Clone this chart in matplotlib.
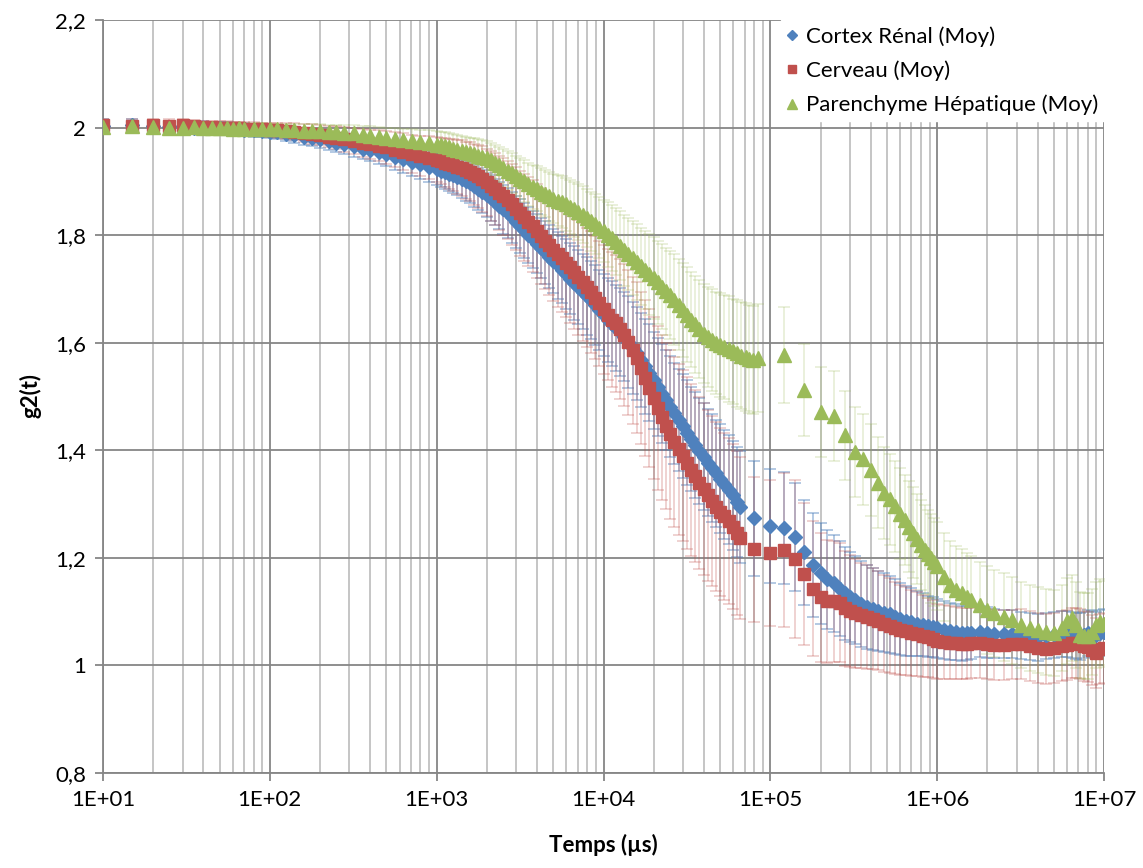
import numpy as np
import matplotlib
matplotlib.use('Agg')
import matplotlib.pyplot as plt
from matplotlib.ticker import FixedLocator, FuncFormatter, LogLocator, NullFormatter

# time axis (µs), cortex renal and cerveau
t_early = [10, 15, 20, 25, 30, 35, 40, 45, 50, 55, 60, 65, 70, 80, 90,
           100, 110, 125, 140, 160, 180, 200, 225, 250, 280, 320, 360, 400, 450, 500, 560, 630, 710, 800, 900]
t_mid = [1000, 1060, 1120, 1190, 1260, 1330, 1410, 1500, 1580, 1680, 1780, 1880, 2000, 2110, 2240, 2370,
         2510, 2660, 2820, 2990, 3160, 3350, 3550, 3760, 3980, 4220, 4470, 4730, 5010, 5310, 5620, 5960,
         6310, 6680, 7080, 7500, 7940, 8410, 8910, 9440,
         10000, 10600, 11200, 11900, 12600, 13300, 14100, 15000, 15800, 16800, 17800, 18800, 20000, 21100,
         22400, 23700, 25100, 26600, 28200, 29900, 31600, 33500, 35500, 37600, 39800, 42200, 44700, 47300,
         50100, 53100, 56200, 59600, 63100]
t_late = [1000000, 1100000, 1200000, 1300000, 1400000, 1500000, 1600000, 1800000, 2000000, 2200000, 2500000,
          2800000, 3200000, 3600000, 4000000, 4500000, 5000000, 5600000, 6000000, 6400000, 6800000, 7200000,
          7600000, 8000000, 8500000, 9000000, 9500000, 10000000]
t_rc_tail = [65500, 80000, 100000, 120000, 140000, 160000, 180000, 200000, 220000, 240000, 260000, 280000,
             300000, 320000, 350000, 380000, 410000, 440000, 480000, 520000, 560000, 600000, 650000, 700000,
             760000, 820000, 880000, 940000]
t_foie_tail = [67000, 71000, 75000, 79000, 84000,
               120000, 160000, 200000, 240000, 280000, 320000, 360000, 400000, 440000, 480000, 520000, 560000,
               600000, 640000, 680000, 720000, 760000, 800000, 840000, 880000, 920000, 960000]

t_rc = t_early + t_mid + t_rc_tail + t_late
t_foie = t_early + t_mid + t_foie_tail + t_late

cortex = [2.003, 2.004, 2.002, 2.001, 2.002, 2.000, 2.000, 1.999, 1.999, 1.998, 1.997, 1.997, 1.996, 1.995, 1.994,
          1.992, 1.991, 1.988, 1.986, 1.983, 1.981, 1.978, 1.975, 1.972, 1.969, 1.965, 1.961, 1.958, 1.955, 1.951,
          1.946, 1.941, 1.936, 1.932, 1.927,
          1.923, 1.920, 1.917, 1.914, 1.911, 1.908, 1.904, 1.900, 1.896, 1.891, 1.886, 1.881, 1.875, 1.869, 1.862,
          1.855, 1.848, 1.841, 1.833, 1.825, 1.817, 1.809, 1.800, 1.792, 1.784, 1.776, 1.768, 1.760, 1.752, 1.744,
          1.736, 1.727, 1.719, 1.711, 1.703, 1.695, 1.687, 1.679, 1.670, 1.661,
          1.652, 1.643, 1.635, 1.628, 1.620, 1.611, 1.601, 1.590, 1.580, 1.568, 1.556, 1.544, 1.530, 1.518,
          1.505, 1.493, 1.481, 1.469, 1.457, 1.445, 1.433, 1.421, 1.410, 1.399, 1.388, 1.377, 1.367, 1.357,
          1.347, 1.337, 1.327, 1.316, 1.304,
          1.295, 1.274, 1.259, 1.255, 1.239, 1.210, 1.187, 1.171, 1.160, 1.153, 1.143, 1.134,
          1.127, 1.122, 1.115, 1.109, 1.105, 1.101, 1.098, 1.095, 1.091, 1.086, 1.083, 1.081,
          1.078, 1.076, 1.073, 1.071,
          1.069, 1.066, 1.064, 1.062, 1.060, 1.061, 1.061, 1.063, 1.061, 1.059, 1.059,
          1.058, 1.056, 1.054, 1.052, 1.055, 1.057, 1.058, 1.059, 1.057, 1.055, 1.054,
          1.056, 1.060, 1.058, 1.057, 1.060, 1.062]
cortex_err = [0.012] * 15 + \
    [0.012, 0.013, 0.013, 0.014, 0.015, 0.015, 0.016, 0.017, 0.017, 0.018, 0.019, 0.020, 0.021, 0.022, 0.023,
     0.024, 0.025, 0.026, 0.027, 0.028,
     0.029, 0.030, 0.031, 0.032, 0.033, 0.034, 0.035, 0.036, 0.037, 0.038, 0.039, 0.040, 0.041, 0.042, 0.043,
     0.044, 0.045, 0.046, 0.047, 0.048, 0.050, 0.051, 0.052, 0.053, 0.055, 0.056, 0.058, 0.059, 0.060, 0.062,
     0.063, 0.065, 0.066, 0.068, 0.069, 0.070, 0.072, 0.073, 0.074, 0.075,
     0.076, 0.078, 0.079, 0.080, 0.082, 0.083, 0.085, 0.086, 0.087, 0.088, 0.089, 0.090, 0.090, 0.091,
     0.092, 0.093, 0.094, 0.094, 0.095, 0.096, 0.097, 0.097, 0.098, 0.098, 0.099, 0.099, 0.100, 0.100,
     0.101, 0.101, 0.102, 0.102, 0.103,
     0.104, 0.107, 0.106, 0.104, 0.100, 0.098, 0.096, 0.094, 0.092, 0.090, 0.088, 0.086,
     0.084, 0.082, 0.080, 0.078, 0.077, 0.075, 0.073, 0.071, 0.069, 0.067, 0.065, 0.063,
     0.061, 0.059, 0.057, 0.056,
     0.055, 0.054, 0.053, 0.052, 0.051, 0.050, 0.049, 0.048, 0.047, 0.046, 0.045,
     0.045, 0.044, 0.044, 0.044, 0.043, 0.043, 0.043, 0.043, 0.043, 0.043, 0.043,
     0.043, 0.043, 0.043, 0.043, 0.043, 0.043]

cerveau = [2.004, 2.003, 2.004, 2.003, 2.004, 2.002, 2.001, 2.001, 2.000, 2.000, 1.999, 1.999, 1.998, 1.998, 1.997,
           1.996, 1.995, 1.993, 1.992, 1.990, 1.988, 1.986, 1.983, 1.981, 1.978, 1.975, 1.972, 1.969, 1.966, 1.963,
           1.959, 1.955, 1.951, 1.947, 1.944,
           1.940, 1.938, 1.935, 1.932, 1.930, 1.927, 1.925, 1.921, 1.918, 1.913, 1.909, 1.904, 1.898, 1.892, 1.885,
           1.879, 1.872, 1.865, 1.857, 1.849, 1.841, 1.833, 1.825, 1.817, 1.808, 1.799, 1.790, 1.781, 1.772, 1.764,
           1.757, 1.748, 1.740, 1.731, 1.722, 1.713, 1.703, 1.694, 1.684, 1.673,
           1.662, 1.652, 1.643, 1.636, 1.626, 1.614, 1.601, 1.586, 1.572, 1.553, 1.535, 1.516, 1.497, 1.479,
           1.461, 1.445, 1.430, 1.416, 1.402, 1.390, 1.376, 1.364, 1.352, 1.339, 1.328, 1.316, 1.305, 1.295,
           1.286, 1.277, 1.268, 1.258, 1.246,
           1.237, 1.216, 1.209, 1.215, 1.198, 1.170, 1.143, 1.127, 1.119, 1.119, 1.117, 1.106,
           1.101, 1.097, 1.093, 1.090, 1.087, 1.083, 1.078, 1.074, 1.070, 1.066, 1.064, 1.061,
           1.058, 1.055, 1.052, 1.049,
           1.045, 1.043, 1.042, 1.041, 1.040, 1.040, 1.041, 1.042, 1.040, 1.038, 1.038,
           1.039, 1.040, 1.036, 1.032, 1.031, 1.033, 1.036, 1.038, 1.041, 1.042, 1.040,
           1.036, 1.034, 1.028, 1.024, 1.030, 1.033]
cerveau_err = [0.012] * 15 + \
    [0.013, 0.014, 0.015, 0.016, 0.017, 0.018, 0.019, 0.020, 0.021, 0.023, 0.024, 0.026, 0.027, 0.029, 0.030,
     0.032, 0.034, 0.036, 0.038, 0.040,
     0.042, 0.043, 0.045, 0.046, 0.048, 0.050, 0.052, 0.053, 0.055, 0.057, 0.059, 0.061, 0.063, 0.065, 0.067,
     0.069, 0.071, 0.073, 0.075, 0.077, 0.079, 0.081, 0.083, 0.085, 0.087, 0.089, 0.091, 0.093, 0.095, 0.097,
     0.099, 0.101, 0.103, 0.105, 0.107, 0.109, 0.111, 0.113, 0.115, 0.117,
     0.120, 0.122, 0.125, 0.127, 0.130, 0.132, 0.135, 0.137, 0.140, 0.142, 0.145, 0.147, 0.150, 0.152,
     0.154, 0.155, 0.157, 0.158, 0.159, 0.159, 0.160, 0.160, 0.160, 0.160, 0.159, 0.159, 0.158, 0.157,
     0.156, 0.155, 0.154, 0.153, 0.152,
     0.150, 0.135, 0.135, 0.143, 0.147, 0.132, 0.125, 0.120, 0.115, 0.112, 0.110, 0.107,
     0.104, 0.101, 0.098, 0.096, 0.094, 0.092, 0.090, 0.088, 0.086, 0.084, 0.082, 0.080,
     0.078, 0.076, 0.074, 0.072,
     0.070, 0.069, 0.068, 0.067, 0.066, 0.066, 0.065, 0.065, 0.065, 0.065, 0.065,
     0.065, 0.065, 0.065, 0.065, 0.065, 0.065, 0.065, 0.065, 0.065, 0.065, 0.065,
     0.065, 0.065, 0.065, 0.065, 0.065, 0.065]

foie = [2.001, 2.002, 2.001, 2.000, 2.000, 2.001, 2.000, 1.999, 1.999, 1.999, 1.998, 1.999, 1.998, 1.998, 1.998,
        1.997, 1.997, 1.996, 1.995, 1.994, 1.994, 1.993, 1.992, 1.991, 1.990, 1.989, 1.987, 1.985, 1.983, 1.981,
        1.979, 1.977, 1.975, 1.973, 1.971,
        1.968, 1.967, 1.965, 1.963, 1.961, 1.959, 1.956, 1.954, 1.952, 1.950, 1.948, 1.946, 1.943, 1.939, 1.934,
        1.930, 1.925, 1.920, 1.915, 1.910, 1.905, 1.900, 1.895, 1.890, 1.886, 1.881, 1.877, 1.872, 1.868, 1.864,
        1.861, 1.857, 1.853, 1.848, 1.843, 1.838, 1.832, 1.826, 1.820, 1.814,
        1.808, 1.801, 1.795, 1.788, 1.780, 1.772, 1.765, 1.757, 1.750, 1.742, 1.735, 1.727, 1.720, 1.712,
        1.704, 1.696, 1.688, 1.680, 1.671, 1.661, 1.652, 1.643, 1.634, 1.625, 1.617, 1.610, 1.605, 1.600,
        1.596, 1.592, 1.588, 1.584, 1.580,
        1.576, 1.573, 1.570, 1.568, 1.572,
        1.577, 1.512, 1.471, 1.464, 1.428, 1.397, 1.383, 1.363, 1.340, 1.321, 1.309, 1.296,
        1.282, 1.270, 1.258, 1.247, 1.235, 1.224, 1.215, 1.207, 1.199, 1.192,
        1.185, 1.165, 1.150, 1.141, 1.134, 1.128, 1.122, 1.112, 1.103, 1.097, 1.090,
        1.084, 1.076, 1.070, 1.066, 1.062, 1.060, 1.070, 1.082, 1.089, 1.075, 1.057,
        1.055, 1.054, 1.062, 1.075, 1.080, 1.077]
foie_err = [0.010] * 15 + \
    [0.010, 0.010, 0.011, 0.011, 0.012, 0.012, 0.013, 0.013, 0.014, 0.014, 0.015, 0.016, 0.017, 0.018, 0.019,
     0.020, 0.021, 0.022, 0.023, 0.024,
     0.025, 0.025, 0.026, 0.026, 0.027, 0.027, 0.028, 0.028, 0.029, 0.030, 0.031, 0.031, 0.032, 0.033, 0.034,
     0.034, 0.035, 0.036, 0.037, 0.037, 0.038, 0.039, 0.040, 0.041, 0.042, 0.043, 0.044, 0.045, 0.046, 0.047,
     0.048, 0.049, 0.050, 0.051, 0.052, 0.053, 0.054, 0.055, 0.056, 0.057,
     0.058, 0.060, 0.061, 0.063, 0.064, 0.066, 0.067, 0.069, 0.070, 0.072, 0.073, 0.075, 0.076, 0.078,
     0.079, 0.081, 0.082, 0.084, 0.085, 0.087, 0.088, 0.089, 0.090, 0.091, 0.092, 0.093, 0.094, 0.095,
     0.096, 0.097, 0.098, 0.098, 0.099,
     0.100, 0.100, 0.100, 0.100, 0.100,
     0.090, 0.086, 0.084, 0.083, 0.083, 0.084, 0.085, 0.085, 0.085, 0.085, 0.085, 0.085,
     0.085, 0.084, 0.084, 0.084, 0.083, 0.083, 0.083, 0.082, 0.082, 0.082,
     0.082, 0.082, 0.082, 0.082, 0.082, 0.081, 0.081, 0.081, 0.081, 0.081, 0.081,
     0.081, 0.080, 0.080, 0.080, 0.080, 0.080, 0.080, 0.080, 0.080, 0.080, 0.080,
     0.080, 0.080, 0.080, 0.080, 0.080, 0.080]

labels = ['Cortex Rénal (Moy)', 'Cerveau (Moy)', 'Parenchyme Hépatique (Moy)']

plt.rcParams['font.family'] = ['Lato', 'DejaVu Sans']

fig = plt.figure(figsize=(11.43, 8.68), dpi=100)
ax = fig.add_axes([0.0901, 0.1094, 0.8758, 0.8676])

series = [
    (t_rc, cortex, cortex_err, '#4F81BD', 'D', 7.5, 0.5),
    (t_rc, cerveau, cerveau_err, '#C0504D', 's', 8.5, 0.3),
    (t_foie, foie, foie_err, '#9BBB59', '^', 9.5, 0.25),
]

for t, g, e, col, mk, ms, a in series:
    eb = ax.errorbar(t, g, yerr=e, fmt='none', ecolor=col, elinewidth=1.2,
                     capsize=4, capthick=1.2, zorder=2)
    for part in list(eb.lines[1]) + list(eb.lines[2]):
        part.set_alpha(a)

handles = []
for i, (t, g, e, col, mk, ms, a) in enumerate(series):
    h, = ax.plot(t, g, linestyle='none', marker=mk, ms=ms, color=col, mec=col,
                 zorder=3 + i, label=labels[i])
    handles.append(h)

ax.set_xscale('log')
ax.set_xlim(10, 1e7)
ax.set_ylim(0.8, 2.2)

ax.xaxis.set_major_locator(FixedLocator([10.0 ** k for k in range(1, 8)]))
ax.xaxis.set_major_formatter(FuncFormatter(lambda v, p: '1E+%02d' % round(np.log10(v))))
ax.xaxis.set_minor_locator(LogLocator(base=10, subs=np.arange(2, 10)))
ax.xaxis.set_minor_formatter(NullFormatter())

ax.set_yticks(np.arange(0.8, 2.21, 0.2))
ax.yaxis.set_major_formatter(FuncFormatter(lambda v, p: ('%g' % round(v, 1)).replace('.', ',')))

ax.set_axisbelow(True)
ax.grid(which='major', axis='both', color='#868686', lw=1.3)
ax.grid(which='minor', axis='x', color='#c0c0c0', lw=1.3)

for s in ['top', 'right']:
    ax.spines[s].set_visible(False)
for s in ['left', 'bottom']:
    ax.spines[s].set_color('#868686')
    ax.spines[s].set_linewidth(1.3)

ax.tick_params(which='major', direction='out', length=6, width=1.3, color='#868686',
               labelsize=16, pad=6, labelcolor='black')
ax.tick_params(which='minor', length=0)

fig.text(603 / 1143, 1 - 845 / 868, 'Temps (µs)', ha='center', va='center',
         fontsize=16, fontweight='bold')
fig.text(30 / 1143, 1 - 396 / 868, 'g2(t)', ha='center', va='center', rotation=90,
         fontsize=16, fontweight='bold')

leg = ax.legend(handles=handles, loc='upper right', frameon=True, fancybox=False,
                facecolor='white', edgecolor='white', framealpha=1, fontsize=16,
                markerscale=0.7, handlelength=0.5, handletextpad=0.35,
                labelspacing=0.62, borderpad=0.27, borderaxespad=0.0)
leg.set_zorder(10)

fig.savefig('out.png', dpi=100)
